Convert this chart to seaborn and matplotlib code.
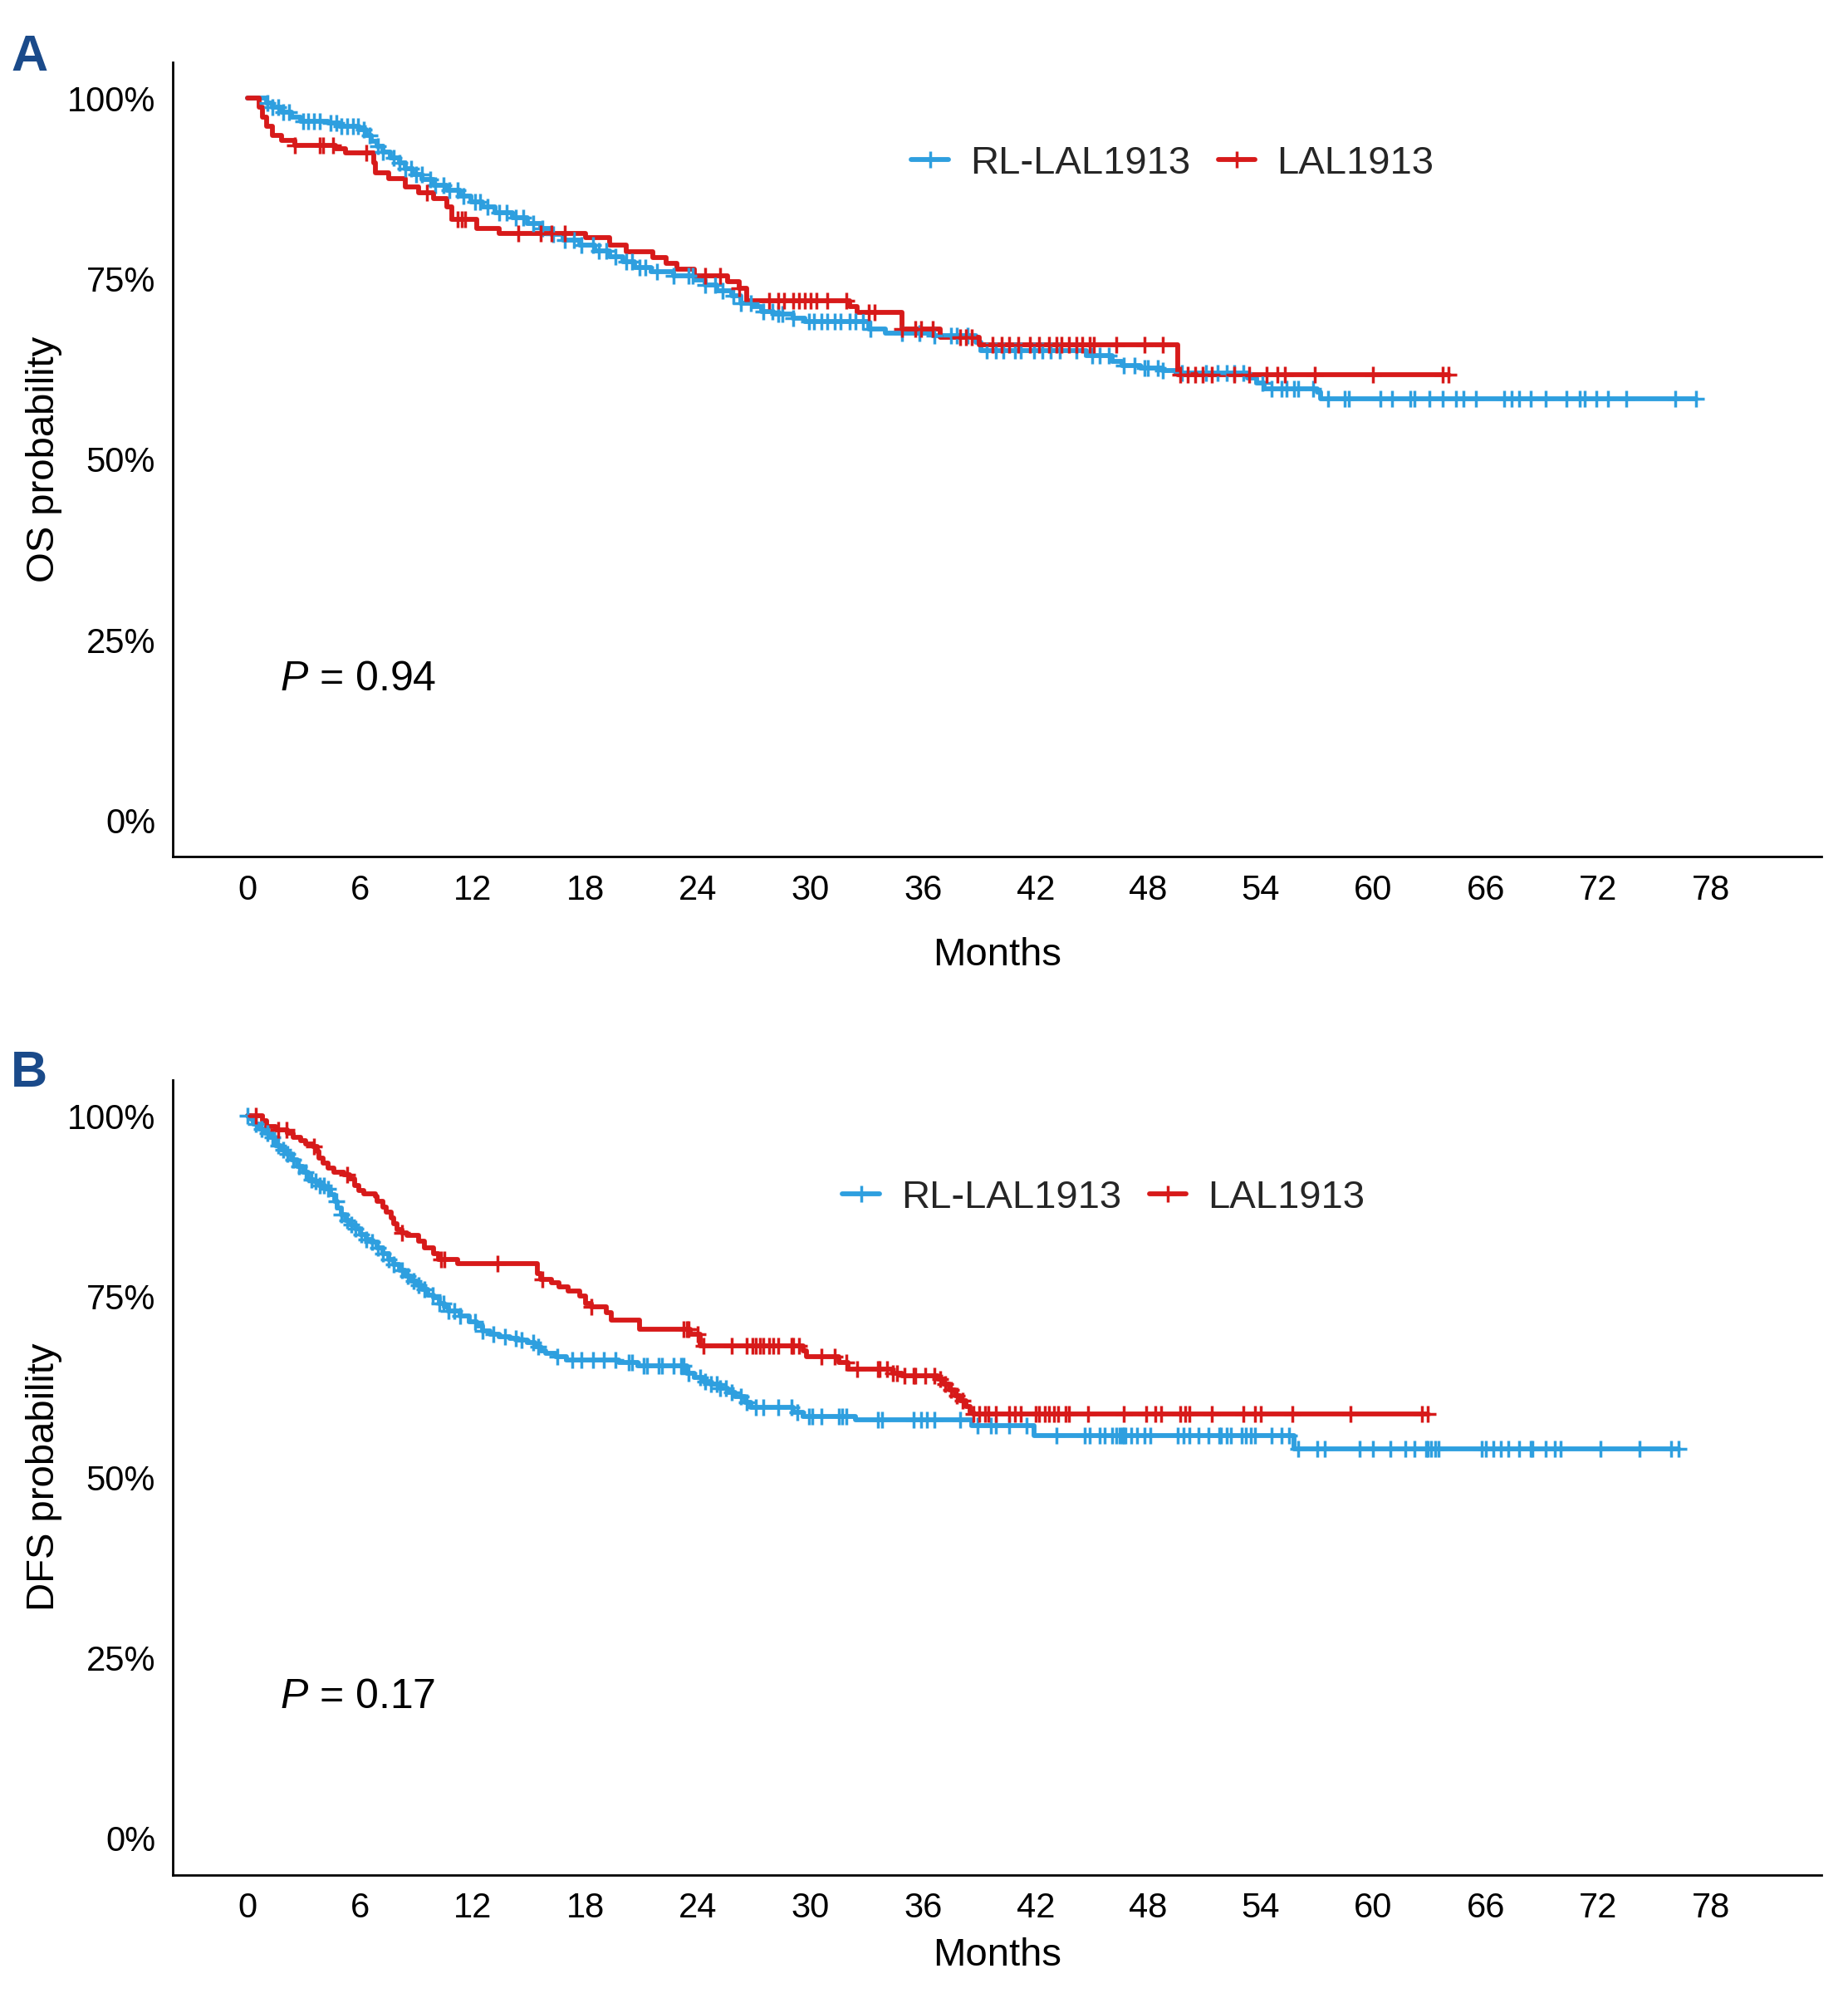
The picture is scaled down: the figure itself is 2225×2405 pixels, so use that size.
import numpy as np
import pandas as pd
import matplotlib
matplotlib.use("Agg")
import matplotlib.pyplot as plt
import seaborn as sns
from matplotlib.lines import Line2D

# ---------------- data ----------------
group_names = ["RL-LAL1913", "LAL1913"]
month_ticks = list(range(0, 79, 6))
pct_ticks = [0, 25, 50, 75, 100]
pct_labels = ["0%", "25%", "50%", "75%", "100%"]

# Panel A: OS, RL-LAL1913 (event times, survival % after each step)
os_rl_t = [1.0, 1.3, 1.8, 2.35, 2.8, 4.3, 4.9, 5.9, 6.3, 6.6,
           6.9, 7.2, 7.6, 8.1, 8.4, 8.8, 9.3, 9.9, 10.6, 11.3,
           11.9, 12.5, 13.2, 14.1, 14.9, 15.6, 16.2, 16.8, 17.7, 18.5,
           19.3, 20.0, 20.6, 21.5, 22.7, 23.8, 24.4, 25.0, 25.8, 26.3,
           26.9, 27.4, 28.0, 29.1, 29.7, 33.1, 34.0, 36.5, 38.8, 39.1,
           44.7, 46.1, 46.6, 47.6, 48.8, 49.5, 53.3, 53.8, 54.2, 57.0,
           57.2]
os_rl_s = [99.3, 98.7, 98.0, 97.4, 96.8, 96.5, 96.1, 95.6, 94.8, 94.0,
           93.3, 92.5, 91.7, 91.0, 90.2, 89.4, 88.7, 87.9, 87.2, 86.4,
           85.6, 84.9, 84.1, 83.4, 82.6, 81.9, 81.1, 80.3, 79.6, 78.8,
           78.1, 77.3, 76.5, 76.0, 75.4, 74.8, 74.1, 73.3, 72.6, 71.6,
           71.1, 70.5, 70.1, 69.5, 69.1, 68.1, 67.5, 67.1, 66.2, 65.1,
           64.4, 63.6, 63.0, 62.7, 62.3, 61.9, 61.3, 60.6, 59.8, 59.3,
           58.4]
os_rl_cens = [1.03, 1.32, 1.62, 1.91, 2.21, 2.94, 3.24, 3.53, 3.83, 4.42, 4.71, 5.0,
              5.3, 5.59, 5.89, 6.18, 6.48, 6.92, 7.2, 7.8, 8.1, 8.4, 8.7, 8.98, 9.27,
              9.71, 10.0, 10.45, 10.74, 11.2, 11.5, 12.1, 12.4, 12.8, 13.4, 13.8, 14.3,
              14.7, 15.2, 15.7, 16.3, 16.9, 17.4, 17.8, 18.4, 18.7, 19.1, 19.6, 20.2,
              20.5, 20.9, 21.2, 21.8, 22.7, 23.5, 23.7, 24.4, 24.9, 25.3, 25.9, 26.3,
              26.8, 27.5, 27.96, 28.3, 28.5, 29.1, 29.9, 30.2, 30.6, 30.9, 31.3, 31.6,
              32.1, 32.4, 32.8, 33.2, 34.9, 35.8, 36.6, 37.5, 37.8, 38.4, 39.4, 39.9,
              40.3, 40.9, 41.2, 41.9, 42.35, 42.8, 43.3, 44.2, 45.0, 45.4, 45.9, 46.7,
              47.3, 47.8, 48.0, 48.5, 48.8, 49.8, 51.1, 51.7, 52.2, 52.6, 53.1, 54.1,
              54.6, 55.1, 55.4, 55.8, 56.0, 56.8, 57.6, 58.5, 58.7, 60.4, 61.0, 62.0,
              62.2, 63.0, 63.7, 64.4, 64.8, 65.5, 67.0, 67.4, 67.8, 68.4, 69.2, 70.3,
              71.0, 71.3, 71.9, 72.5, 73.5, 76.1, 77.2]

# Panel A: OS, LAL1913
os_lal_t = [0.6, 0.8, 1.0, 1.3, 1.8, 2.5, 4.7, 5.2, 6.7, 6.8,
            7.5, 8.4, 9.1, 9.9, 10.6, 10.9, 12.2, 13.4, 18.0, 19.3,
            20.2, 21.6, 22.3, 22.9, 23.8, 25.6, 26.2, 26.6, 32.1, 32.5,
            34.9, 36.9, 39.0, 49.6]
os_lal_s = [98.7, 97.4, 96.1, 94.8, 94.1, 93.5, 93.0, 92.4, 91.0, 89.6,
            88.8, 87.7, 86.9, 86.1, 84.9, 83.2, 82.0, 81.3, 80.7, 79.7,
            78.7, 77.9, 77.1, 76.3, 75.4, 74.6, 73.7, 72.0, 71.1, 70.3,
            68.1, 66.9, 65.9, 61.7]
os_lal_cens = [2.5, 3.83, 4.0, 4.55, 6.33, 9.56, 11.2, 11.4, 11.6, 14.4, 15.6, 16.2,
               16.9, 24.4, 25.2, 26.2, 27.8, 28.3, 28.6, 29.1, 29.4, 29.7, 30.0, 30.3,
               30.9, 31.9, 33.1, 33.4, 34.9, 35.6, 35.9, 36.5, 38.0, 38.3, 38.6, 39.7,
               40.2, 40.6, 41.1, 41.7, 42.2, 42.7, 43.1, 43.4, 43.8, 44.2, 44.5, 44.9,
               45.1, 46.3, 47.8, 48.8, 49.7, 50.1, 50.5, 50.9, 51.4, 52.6, 53.4, 54.3,
               54.9, 55.3, 56.9, 60.0, 63.7, 64.0]

# Panel B: DFS, RL-LAL1913
dfs_rl_t = [0.15, 0.3, 0.6, 0.9, 1.2, 1.47, 1.77, 2.06, 2.35, 2.65,
            2.94, 3.24, 3.53, 3.83, 4.12, 4.42, 4.64, 4.78, 5.0, 5.2,
            5.45, 5.74, 6.0, 6.3, 6.6, 6.9, 7.2, 7.5, 7.8, 8.1,
            8.4, 8.7, 9.0, 9.3, 9.6, 9.9, 10.2, 10.5, 10.7, 11.3,
            11.8, 12.2, 12.5, 12.9, 13.4, 14.0, 14.4, 14.9, 15.3, 15.6,
            15.9, 16.4, 17.0, 19.8, 20.8, 23.4, 23.8, 24.3, 24.7, 25.2,
            25.6, 26.0, 26.5, 26.8, 29.1, 29.6, 32.4, 38.6, 41.9, 55.8]
dfs_rl_s = [99.5, 98.9, 98.2, 97.6, 97.0, 95.9, 95.3, 94.7, 93.9, 93.0,
            92.2, 91.2, 90.9, 90.3, 89.9, 89.1, 88.2, 87.2, 86.3, 85.5,
            84.9, 84.4, 83.6, 82.9, 82.5, 81.7, 80.9, 80.1, 79.4, 78.6,
            77.8, 77.1, 76.5, 76.0, 75.2, 74.8, 74.0, 73.6, 73.0, 72.3,
            71.5, 70.9, 70.2, 69.8, 69.4, 69.2, 69.0, 68.6, 68.1, 67.5,
            67.1, 66.7, 66.2, 65.9, 65.4, 64.4, 63.8, 63.2, 62.9, 62.3,
            61.7, 61.2, 60.4, 59.6, 59.0, 58.4, 57.9, 57.1, 55.7, 53.9]
dfs_rl_cens = [0.0, 0.44, 0.74, 1.03, 1.32, 1.62, 1.91, 2.13, 2.43, 2.72, 3.09, 3.39,
               3.61, 3.83, 4.05, 4.27, 4.71, 5.0, 5.3, 5.52, 5.74, 6.03, 6.33, 6.62,
               6.92, 7.21, 7.5, 7.8, 8.24, 8.54, 8.83, 9.12, 9.42, 9.86, 10.2, 10.45,
               10.7, 11.0, 11.3, 12.1, 12.5, 13.1, 13.7, 14.3, 14.6, 15.2, 15.5, 16.5,
               17.3, 17.8, 18.4, 19.0, 19.6, 20.3, 20.5, 21.1, 21.3, 21.9, 22.1, 22.7,
               23.1, 23.25, 23.5, 24.1, 24.4, 24.7, 25.0, 25.2, 25.5, 25.8, 26.3, 26.6,
               27.1, 27.5, 28.3, 29.0, 29.3, 29.9, 30.1, 30.6, 31.5, 31.7, 31.9, 33.6,
               33.8, 35.5, 35.9, 36.2, 36.6, 38.0, 38.9, 39.6, 39.9, 40.6, 41.5, 43.1,
               44.6, 44.9, 45.4, 45.7, 46.1, 46.3, 46.5, 46.6, 46.7, 46.8, 47.1, 47.4,
               47.8, 48.1, 49.6, 49.9, 50.2, 50.7, 51.2, 51.8, 51.9, 52.2, 52.4, 53.0,
               53.2, 53.5, 53.7, 54.6, 55.1, 55.5, 56.0, 57.0, 57.4, 59.3, 60.0, 60.9,
               61.7, 62.2, 62.8, 62.9, 63.1, 63.3, 63.5, 65.8, 66.0, 66.4, 66.8, 67.2,
               67.8, 68.4, 68.5, 69.2, 69.7, 70.0, 72.1, 74.2, 75.9, 76.3]

# Panel B: DFS, LAL1913
dfs_lal_t = [0.8, 1.0, 1.5, 2.1, 2.4, 2.8, 3.1, 3.5, 3.7, 3.8,
             4.0, 4.3, 4.6, 5.1, 5.45, 5.7, 5.9, 6.2, 6.8, 6.9,
             7.2, 7.4, 7.65, 7.8, 7.95, 8.2, 8.5, 9.1, 9.4, 9.9,
             10.15, 11.2, 15.45, 15.6, 16.2, 16.6, 17.1, 17.7, 18.0, 18.3,
             19.1, 19.4, 20.9, 23.6, 24.1, 29.6, 29.8, 31.5, 32.0, 34.4,
             34.9, 36.8, 37.1, 37.4, 37.7, 37.96, 38.3, 38.5, 38.7]
dfs_lal_s = [99.3, 98.5, 98.0, 97.6, 97.0, 96.6, 96.1, 95.7, 95.1, 94.1,
             93.4, 92.8, 92.2, 91.8, 91.3, 90.3, 89.7, 89.2, 88.8, 88.2,
             87.4, 86.7, 85.9, 85.1, 84.3, 83.8, 83.4, 82.6, 81.7, 80.9,
             80.1, 79.5, 78.2, 77.4, 76.9, 76.3, 75.7, 75.1, 74.0, 73.6,
             72.8, 71.7, 70.5, 69.8, 68.2, 67.5, 66.7, 65.9, 65.0, 64.4,
             64.0, 63.6, 62.9, 62.1, 61.3, 60.6, 59.8, 59.0, 58.7]
dfs_lal_cens = [0.44, 1.62, 2.06, 3.53, 5.3, 8.24, 10.3, 10.5, 13.3, 15.7, 18.3, 23.25,
                23.4, 23.5, 24.0, 24.3, 25.8, 26.6, 26.9, 27.1, 27.3, 27.5, 27.8, 28.0,
                28.3, 29.0, 29.1, 29.4, 30.6, 31.3, 31.9, 32.5, 33.6, 33.7, 34.1, 34.4,
                34.6, 35.0, 35.5, 35.6, 36.1, 36.6, 36.9, 37.2, 37.5, 37.8, 38.1, 38.7,
                39.0, 39.3, 39.5, 39.9, 40.6, 40.9, 41.2, 42.0, 42.2, 42.5, 42.7, 43.0,
                43.2, 43.6, 43.8, 44.8, 46.7, 47.9, 48.4, 48.7, 49.7, 50.0, 50.2, 51.4,
                53.1, 53.7, 54.0, 55.7, 58.8, 62.6, 62.9]

p_values = ["0.94", "0.17"]
y_titles = ["OS probability", "DFS probability"]
panel_letters = ["A", "B"]

# ---------------- style ----------------
sns.set_theme(style="white")
plt.rcParams["font.family"] = ["Liberation Sans", "DejaVu Sans"]
plt.rcParams["mathtext.fontset"] = "custom"
plt.rcParams["mathtext.it"] = "Liberation Sans:italic"
plt.rcParams["mathtext.rm"] = "Liberation Sans"

BLUE = "#2E9FDF"
RED = "#D71A1A"
LW = 4.2
MS = 14
MEW = 2.5

W_PX, H_PX = 2225, 2405
fig = plt.figure(figsize=(W_PX / 100, H_PX / 100), dpi=100)

ax_left = 208 / W_PX
ax_w = 1985 / W_PX
ax_h = 957 / H_PX
axA = fig.add_axes([ax_left, 1 - 1031.5 / H_PX, ax_w, ax_h])
axB = fig.add_axes([ax_left, 1 - 2256.5 / H_PX, ax_w, ax_h])


def km_frame(times, surv, end):
    t = np.concatenate([[0.0], np.asarray(times, float), [end]])
    s = np.concatenate([[100.0], np.asarray(surv, float), [surv[-1]]])
    return pd.DataFrame({"Months": t, "Surv": s})


def censor_frame(times, surv, cens):
    t = np.concatenate([[0.0], np.asarray(times, float)])
    s = np.concatenate([[100.0], np.asarray(surv, float)])
    c = np.asarray(cens, float)
    idx = np.searchsorted(t, c, side="right") - 1
    return pd.DataFrame({"Months": c, "Surv": s[idx]})


def draw_panel(ax, curves, ytitle, pval, xlab_y, leg_xy, letter, letter_y):
    for times, surv, cens, color in curves:
        end = max(cens[-1], times[-1])
        sns.lineplot(data=km_frame(times, surv, end), x="Months", y="Surv",
                     drawstyle="steps-post", estimator=None, sort=False,
                     color=color, lw=LW, ax=ax, zorder=2)
        sns.scatterplot(data=censor_frame(times, surv, cens), x="Months", y="Surv",
                        marker="+", s=MS ** 2, linewidth=MEW, color=color,
                        ax=ax, zorder=3)
    ax.set_xlim(-4, 83.9)
    ax.set_ylim(-5, 105)
    ax.set_xticks(month_ticks)
    ax.set_xticklabels([str(m) for m in month_ticks])
    ax.set_yticks(pct_ticks)
    ax.set_yticklabels(pct_labels)
    ax.tick_params(labelsize=30, length=9, width=1.6, pad=6,
                   color="black", labelcolor="black")
    sns.despine(ax=ax)
    for sp in ["left", "bottom"]:
        ax.spines[sp].set_linewidth(2.0)
        ax.spines[sp].set_color("black")
    ax.set_xlabel("Months", fontsize=34, color="black")
    ax.xaxis.set_label_coords(0.5, xlab_y)
    ax.set_ylabel(ytitle, fontsize=34, color="black")
    ax.yaxis.set_label_coords(-0.067, 0.5)
    ax.text(1.7, 19.5, r"$P$ = " + pval, fontsize=36, ha="left", va="center",
            color="black")
    handles = [Line2D([], [], color=BLUE, lw=LW, marker="+", ms=MS, mew=MEW),
               Line2D([], [], color=RED, lw=LW, marker="+", ms=MS, mew=MEW)]
    ax.legend(handles, group_names, loc="center", bbox_to_anchor=leg_xy,
              bbox_transform=fig.transFigure, ncol=2, frameon=False,
              fontsize=34, handlelength=0.95, handletextpad=0.55,
              columnspacing=0.7, borderpad=0, borderaxespad=0)
    fig.text(13 / W_PX, 1 - letter_y / H_PX, letter, fontsize=44,
             fontweight="bold", color="#1A4A8A", ha="left", va="baseline")


draw_panel(axA,
           [(os_rl_t, os_rl_s, os_rl_cens, BLUE),
            (os_lal_t, os_lal_s, os_lal_cens, RED)],
           y_titles[0], p_values[0], -0.101,
           (1412 / W_PX, 1 - 197 / H_PX), panel_letters[0], 85)
draw_panel(axB,
           [(dfs_rl_t, dfs_rl_s, dfs_rl_cens, BLUE),
            (dfs_lal_t, dfs_lal_s, dfs_lal_cens, RED)],
           y_titles[1], p_values[1], -0.079,
           (1329 / W_PX, 1 - 1442 / H_PX), panel_letters[1], 1308)

fig.savefig("out.png", dpi=100)
